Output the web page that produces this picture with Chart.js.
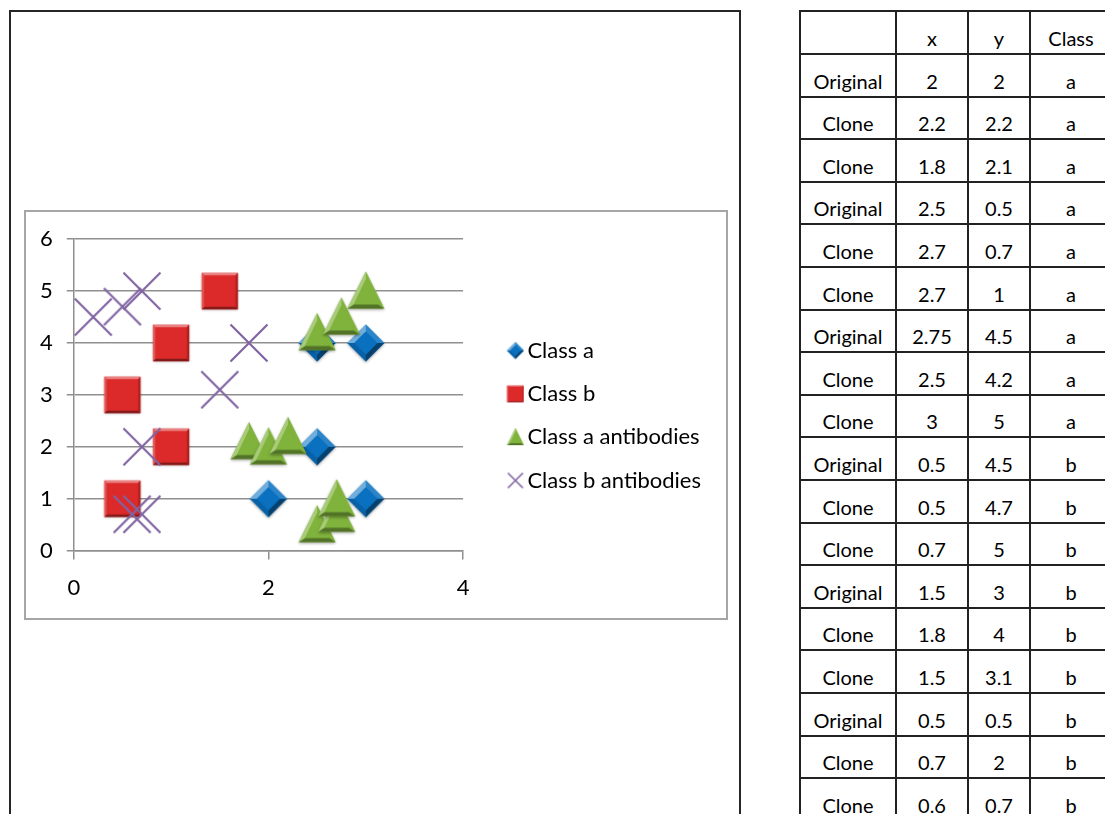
<!DOCTYPE html>
<html>
<head>
<meta charset="utf-8">
<script src="https://cdn.jsdelivr.net/npm/chart.js@4"></script>
<style>
  html, body { margin: 0; padding: 0; background: #fff; overflow: hidden; }
  body { width: 1105px; height: 814px; position: relative; font-family: Lato, "Open Sans", sans-serif; }
  #frame { position: absolute; left: 9px; top: 10px; width: 732px; height: 830px; border: 2px solid #262626; box-sizing: border-box; }
  #box { position: absolute; left: 24px; top: 210px; width: 704px; height: 410px; border: 2px solid #a6a6a6; box-sizing: border-box; }
  #chart { position: absolute; left: 0; top: 0; }
  #tbl { position: absolute; left: 799px; top: 10px; width: 312px; border-collapse: collapse; font-size: 20px; color: #000; table-layout: fixed; }
  #tbl td { border: 2px solid #222; text-align: center; vertical-align: bottom; padding: 0 0 3px 0; height: 42.6px; box-sizing: border-box; white-space: nowrap; overflow: hidden; }
  #tbl tr.head td { height: 43px; padding-bottom: 3px; }
</style>
</head>
<body>
<div id="frame"></div>
<div id="box"><canvas id="chart" width="700" height="406"></canvas></div>
<table id="tbl"><colgroup><col style="width:96px"><col style="width:72px"><col style="width:62px"><col style="width:82px"></colgroup><tbody id="tbody"></tbody></table>
<script>
// Scatter series
const seriesNames = ['Class a', 'Class b', 'Class a antibodies', 'Class b antibodies'];
const classAX = [2, 2.5, 3, 2.5, 3];
const classAY = [1, 2, 1, 4, 4];
const classBX = [0.5, 1, 0.5, 1, 1.5];
const classBY = [1, 2, 3, 4, 5];
const classAAbX = [1.8, 2, 2.2, 2.5, 2.7, 2.7, 2.5, 2.75, 3];
const classAAbY = [2.1, 2, 2.2, 0.5, 0.7, 1, 4.2, 4.5, 5];
const classBAbX = [0.2, 0.5, 0.7, 1.8, 1.5, 0.7, 0.6, 0.7];
const classBAbY = [4.5, 4.7, 5, 4, 3.1, 2, 0.7, 0.7];

// Axis ticks
const xTicks = [0, 2, 4];
const yTicks = [0, 1, 2, 3, 4, 5, 6];

// Side table
const tableHead = ['', 'x', 'y', 'Class'];
const tableKind = ['Original', 'Clone', 'Clone', 'Original', 'Clone', 'Clone', 'Original', 'Clone', 'Clone',
                   'Original', 'Clone', 'Clone', 'Original', 'Clone', 'Clone', 'Original', 'Clone', 'Clone'];
const tableX = ['2', '2.2', '1.8', '2.5', '2.7', '2.7', '2.75', '2.5', '3',
                '0.5', '0.5', '0.7', '1.5', '1.8', '1.5', '0.5', '0.7', '0.6'];
const tableY = ['2', '2.2', '2.1', '0.5', '0.7', '1', '4.5', '4.2', '5',
                '4.5', '4.7', '5', '3', '4', '3.1', '0.5', '2', '0.7'];
const tableClass = ['a', 'a', 'a', 'a', 'a', 'a', 'a', 'a', 'a',
                    'b', 'b', 'b', 'b', 'b', 'b', 'b', 'b', 'b'];

// ---- table ----
(function buildTable() {
  const tb = document.getElementById('tbody');
  const head = document.createElement('tr');
  head.className = 'head';
  tableHead.forEach(t => { const td = document.createElement('td'); td.textContent = t; head.appendChild(td); });
  tb.appendChild(head);
  tableKind.forEach((k, i) => {
    const tr = document.createElement('tr');
    [k, tableX[i], tableY[i], tableClass[i]].forEach(t => {
      const td = document.createElement('td'); td.textContent = t; tr.appendChild(td);
    });
    tb.appendChild(tr);
  });
})();

// ---- bevelled marker images ----
function rgbOf(hex) {
  const n = parseInt(hex.slice(1), 16);
  return [(n >> 16) & 255, (n >> 8) & 255, n & 255];
}
function tint(hex, s) {
  const c = rgbOf(hex), t = s > 0 ? 255 : 0, a = Math.min(1, Math.abs(s));
  return 'rgb(' + c.map(v => Math.round(v + (t - v) * a)).join(',') + ')';
}
function bevel(ctx, pts, inset, base, strength, shadow) {
  const n = pts.length;
  const cx = pts.reduce((s, p) => s + p[0], 0) / n;
  const cy = pts.reduce((s, p) => s + p[1], 0) / n;
  const inner = pts.map(p => {
    const dx = p[0] - cx, dy = p[1] - cy, d = Math.hypot(dx, dy), k = (d - inset) / d;
    return [cx + dx * k, cy + dy * k];
  });
  ctx.save();
  if (shadow) { ctx.shadowColor = 'rgba(0,0,0,0.35)'; ctx.shadowBlur = shadow; ctx.shadowOffsetY = shadow * 0.4; }
  ctx.beginPath(); pts.forEach((p, i) => i ? ctx.lineTo(p[0], p[1]) : ctx.moveTo(p[0], p[1])); ctx.closePath();
  ctx.fillStyle = base; ctx.fill();
  ctx.restore();
  const L = [-0.45, -0.89];
  for (let i = 0; i < n; i++) {
    const p = pts[i], q = pts[(i + 1) % n];
    let nx = q[1] - p[1], ny = -(q[0] - p[0]);
    const len = Math.hypot(nx, ny); nx /= len; ny /= len;
    const mx = (p[0] + q[0]) / 2 - cx, my = (p[1] + q[1]) / 2 - cy;
    if (nx * mx + ny * my < 0) { nx = -nx; ny = -ny; }
    const s = (nx * L[0] + ny * L[1]) * strength;
    ctx.beginPath();
    ctx.moveTo(p[0], p[1]); ctx.lineTo(q[0], q[1]);
    ctx.lineTo(inner[(i + 1) % n][0], inner[(i + 1) % n][1]); ctx.lineTo(inner[i][0], inner[i][1]);
    ctx.closePath();
    ctx.fillStyle = tint(base, s); ctx.fill();
  }
  ctx.beginPath(); inner.forEach((p, i) => i ? ctx.lineTo(p[0], p[1]) : ctx.moveTo(p[0], p[1])); ctx.closePath();
  ctx.fillStyle = base; ctx.fill();
}
function marker(shape, size, w, h, cx, cy, shadow) {
  const c = document.createElement('canvas');
  c.width = w; c.height = h;
  const ctx = c.getContext('2d');
  const r = size / 2;
  if (shape === 'diamond') {
    bevel(ctx, [[cx, cy - r], [cx + r, cy], [cx, cy + r], [cx - r, cy]], r * 0.38, '#0a71c0', 0.45, shadow);
  } else if (shape === 'square') {
    const s = r * 0.98;
    bevel(ctx, [[cx - s, cy - s], [cx + s, cy - s], [cx + s, cy + s], [cx - s, cy + s]], r * 0.2, '#dc2a2a', 0.45, shadow);
  } else if (shape === 'triangle') {
    bevel(ctx, [[cx, cy - r * 1.05], [cx + r, cy + r * 0.95], [cx - r, cy + r * 0.95]], r * 0.42, '#80b33c', 0.4, shadow);
  } else {
    ctx.strokeStyle = '#8064a2';
    ctx.lineWidth = size > 24 ? 2.2 : 1.6;
    ctx.beginPath();
    ctx.moveTo(cx - r, cy - r); ctx.lineTo(cx + r, cy + r);
    ctx.moveTo(cx + r, cy - r); ctx.lineTo(cx - r, cy + r);
    ctx.stroke();
  }
  return c;
}
const shapes = ['diamond', 'square', 'triangle', 'cross'];
const plotMarkers = shapes.map(s => marker(s, 37, 48, 48, 24, 24, 3));
// legend swatches sit near the right end of their box, close to the label text
const legendMarkers = shapes.map(s => marker(s, s === 'cross' ? 15 : 17, 48, 22, 39, 11, 0));

const toPoints = (xs, ys) => xs.map((x, i) => ({ x: x, y: ys[i] }));
const seriesData = [
  toPoints(classAX, classAY),
  toPoints(classBX, classBY),
  toPoints(classAAbX, classAAbY),
  toPoints(classBAbX, classBAbY)
];

const gridGray = '#8f8f8f';
const tickFont = { family: 'Lato', size: 22 };
const legendShiftY = -11.5;

// Let the side legend be as wide as its labels, and nudge it vertically.
const legendFitPlugin = {
  id: 'legendFit',
  afterInit(chart) {
    const lg = chart.legend;
    if (!lg || lg._wideFit) return;
    const orig = lg.update;
    lg.update = function (maxWidth, maxHeight, margins) {
      return orig.call(this, Math.max(maxWidth, 320), maxHeight, margins);
    };
    lg._wideFit = true;
  },
  afterLayout(chart) {
    const lg = chart.legend;
    if (lg) { lg.top += legendShiftY; lg.bottom += legendShiftY; }
  }
};

new Chart(document.getElementById('chart'), {
  type: 'scatter',
  data: {
    datasets: seriesNames.map((name, i) => ({
      label: name,
      data: seriesData[i],
      pointStyle: plotMarkers[i],
      pointRadius: 19,
      pointHoverRadius: 19,
      order: seriesNames.length - 1 - i
    }))
  },
  plugins: [legendFitPlugin],
  options: {
    responsive: false,
    animation: false,
    events: [],
    layout: { padding: { left: 0, right: 15, top: 26, bottom: 2 } },
    scales: {
      x: {
        type: 'linear', min: xTicks[0], max: xTicks[xTicks.length - 1],
        afterBuildTicks: axis => { axis.ticks = xTicks.map(v => ({ value: v })); },
        ticks: { font: tickFont, color: '#000', padding: 15 },
        grid: { drawOnChartArea: false, drawTicks: true, tickLength: 9, color: gridGray, lineWidth: 1.5 },
        border: { display: true, color: gridGray, width: 1.5 }
      },
      y: {
        type: 'linear', min: yTicks[0], max: yTicks[yTicks.length - 1],
        afterBuildTicks: axis => { axis.ticks = yTicks.map(v => ({ value: v })); },
        ticks: { font: tickFont, color: '#000', padding: 14 },
        grid: { color: gridGray, lineWidth: 1.5, tickLength: 7 },
        border: { display: true, color: gridGray, width: 1.5 }
      }
    },
    plugins: {
      tooltip: { enabled: false },
      legend: {
        position: 'right',
        labels: {
          usePointStyle: true,
          pointStyleWidth: 32,
          boxHeight: 22,
          padding: 21.3,
          color: '#000',
          font: { family: 'Lato', size: 22 },
          generateLabels: chart => chart.data.datasets.map((ds, i) => ({
            text: ds.label,
            pointStyle: legendMarkers[i],
            datasetIndex: i,
            hidden: false,
            fillStyle: 'rgba(0,0,0,0)',
            strokeStyle: 'rgba(0,0,0,0)',
            lineWidth: 0,
            fontColor: '#000'
          }))
        }
      }
    }
  }
});
</script>
</body>
</html>
